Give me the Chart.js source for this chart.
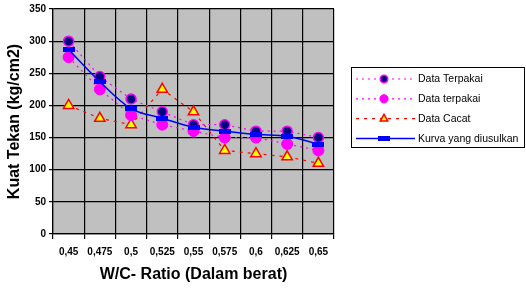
<!DOCTYPE html>
<html>
<head>
<meta charset="utf-8">
<script src="https://cdn.jsdelivr.net/npm/chart.js@4.4.0/dist/chart.umd.min.js"></script>
<style>
  html, body { margin: 0; padding: 0; background: #fff; }
  #wrap { width: 526px; height: 290px; position: relative; }
</style>
</head>
<body>
<div id="wrap"><canvas id="kuatChart" width="526" height="290"></canvas></div>
<script>
// data
const ratios = ['0,45', '0,475', '0,5', '0,525', '0,55', '0,575', '0,6', '0,625', '0,65'];
const dataTerpakai1 = [300, 245, 210, 190, 170, 170, 160, 160, 150];
const dataTerpakai2 = [275, 225, 185, 170, 160, 150, 150, 140, 130];
const dataCacat = [200, 180, 170, 225, 190, 130, 125, 120, 110];
const kurvaUsulan = [287, 237, 195, 180, 166, 160, 155, 152, 140];
const yTicks = [0, 50, 100, 150, 200, 250, 300, 350];

const FONT = 'Arial, "Liberation Sans", sans-serif';

// flat blue marker for the proposed curve
function flatRect(w, h, color) {
    const c = document.createElement('canvas');
    c.width = w; c.height = h;
    const g = c.getContext('2d');
    g.fillStyle = color;
    g.fillRect(0, 0, w, h);
    return c;
}
const blueMark = flatRect(12, 5, '#0000ff');

// grey plot background
const plotBg = {
    id: 'plotBg',
    beforeDraw(chart) {
        const { ctx, chartArea: a } = chart;
        ctx.save();
        ctx.fillStyle = '#c0c0c0';
        ctx.fillRect(a.left, a.top, a.right - a.left, a.bottom - a.top);
        ctx.restore();
    }
};

// boxed legend with line samples, like the original
const boxLegend = {
    id: 'boxLegend',
    afterDraw(chart) {
        const ctx = chart.ctx;
        const x0 = 351, y0 = 67, w = 173, h = 80;
        ctx.save();
        ctx.fillStyle = '#fff';
        ctx.fillRect(x0, y0, w, h);
        ctx.strokeStyle = '#000';
        ctx.lineWidth = 1;
        ctx.strokeRect(x0 + 0.5, y0 + 0.5, w, h);
        chart.data.datasets.forEach((ds, i) => {
            const y = 79 + i * 19.8;
            ctx.save();
            ctx.strokeStyle = ds.borderColor;
            ctx.lineWidth = ds.borderWidth;
            ctx.setLineDash(ds.borderDash || []);
            ctx.beginPath();
            ctx.moveTo(356, y);
            ctx.lineTo(415, y);
            ctx.stroke();
            ctx.restore();
            const style = ds.pointStyle;
            if (style instanceof HTMLCanvasElement) {
                ctx.drawImage(style, 384 - style.width / 2, y - style.height / 2);
            } else {
                ctx.fillStyle = ds.pointBackgroundColor;
                ctx.strokeStyle = ds.pointBorderColor;
                ctx.lineWidth = ds.pointBorderWidth;
                ctx.setLineDash([]);
                ctx.beginPath();
                if (style === 'triangle') {
                    const r = ds.pointRadius * 0.7;
                    ctx.moveTo(384, y - r);
                    ctx.lineTo(384 + r * 0.9, y + r * 0.6);
                    ctx.lineTo(384 - r * 0.9, y + r * 0.6);
                    ctx.closePath();
                } else {
                    ctx.arc(384, y, ds.pointRadius * 0.75, 0, Math.PI * 2);
                }
                ctx.fill();
                ctx.stroke();
            }
            ctx.fillStyle = '#000';
            ctx.font = '10.5px ' + FONT;
            ctx.textBaseline = 'middle';
            ctx.fillText(ds.label, 418, y + 0.5);
        });
        ctx.restore();
    }
};

const ctx = document.getElementById('kuatChart').getContext('2d');
new Chart(ctx, {
    type: 'line',
    data: {
        labels: ratios,
        datasets: [
            {
                label: 'Data Terpakai',
                data: dataTerpakai1,
                borderColor: '#ff00ff',
                borderWidth: 1.2,
                borderDash: [2, 4],
                pointStyle: 'circle',
                pointRadius: 5,
                pointBackgroundColor: '#000080',
                pointBorderColor: '#ff00ff',
                pointBorderWidth: 1.5,
                tension: 0,
                order: 2
            },
            {
                label: 'Data terpakai',
                data: dataTerpakai2,
                borderColor: '#ff00ff',
                borderWidth: 1.2,
                borderDash: [2, 4],
                pointStyle: 'circle',
                pointRadius: 5.5,
                pointBackgroundColor: '#ff00ff',
                pointBorderColor: '#ff00ff',
                pointBorderWidth: 1,
                tension: 0,
                order: 3
            },
            {
                label: 'Data Cacat',
                data: dataCacat,
                borderColor: '#ff0000',
                borderWidth: 1.2,
                borderDash: [3, 5],
                pointStyle: 'triangle',
                pointRadius: 6,
                pointBackgroundColor: '#ffff00',
                pointBorderColor: '#ff0000',
                pointBorderWidth: 1.5,
                tension: 0,
                order: 4
            },
            {
                label: 'Kurva yang diusulkan',
                data: kurvaUsulan,
                borderColor: '#0000ff',
                borderWidth: 1.5,
                pointStyle: blueMark,
                pointRadius: 6,
                pointBackgroundColor: '#0000ff',
                pointBorderColor: '#0000ff',
                pointBorderWidth: 0,
                cubicInterpolationMode: 'monotone',
                order: 1
            }
        ]
    },
    options: {
        responsive: false,
        animation: false,
        devicePixelRatio: 1,
        layout: { padding: { top: 4, right: 192, left: 0, bottom: 0 } },
        plugins: {
            legend: { display: false },
            tooltip: { enabled: false }
        },
        scales: {
            x: {
                offset: true,
                grid: {
                    offset: true,
                    color: '#000',
                    lineWidth: 1.2,
                    tickLength: 5,
                    drawTicks: true
                },
                border: { color: '#000', width: 1.2 },
                ticks: {
                    color: '#000',
                    font: { family: FONT, size: 10, weight: 'bold' },
                    padding: 7,
                    maxRotation: 0
                },
                title: {
                    display: true,
                    text: 'W/C- Ratio (Dalam berat)',
                    color: '#000',
                    font: { family: FONT, size: 16, weight: 'bold' },
                    padding: { top: 5, bottom: 6 }
                },
                afterFit(scale) { scale.height = 56; }
            },
            y: {
                min: 0,
                max: 350,
                afterBuildTicks(scale) {
                    scale.ticks = yTicks.map(v => ({ value: v }));
                },
                grid: {
                    color: '#000',
                    lineWidth: 1.2,
                    tickLength: 4
                },
                border: { color: '#000', width: 1.2 },
                ticks: {
                    color: '#000',
                    font: { family: FONT, size: 10, weight: 'bold' },
                    padding: 3
                },
                title: {
                    display: true,
                    text: 'Kuat Tekan (kg/cm2)',
                    color: '#000',
                    font: { family: FONT, size: 16, weight: 'bold' },
                    padding: { top: 5, bottom: 2 }
                },
                afterFit(scale) { scale.width = 53; }
            }
        }
    },
    plugins: [plotBg, boxLegend]
});
</script>
</body>
</html>
